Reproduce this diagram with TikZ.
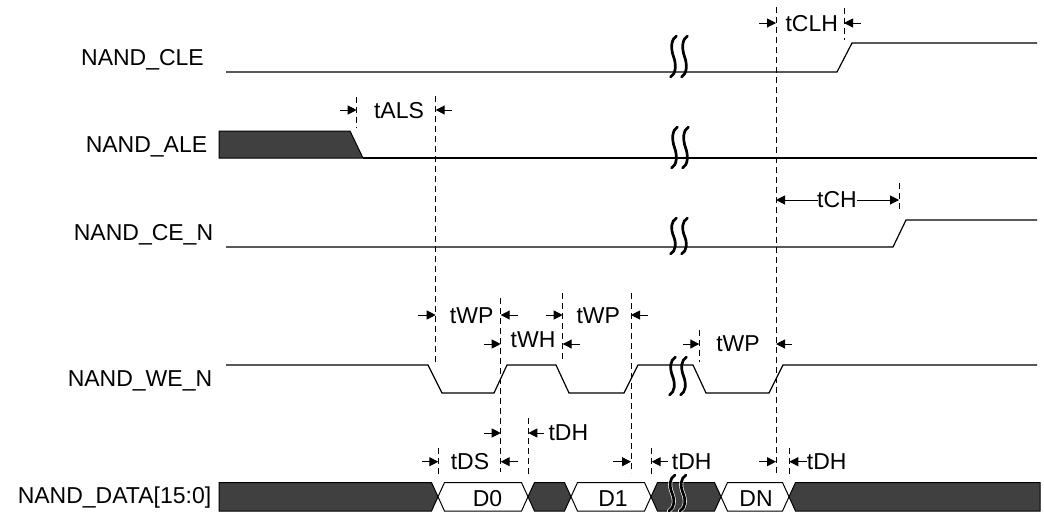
\documentclass[tikz,border=0pt]{standalone}
\usepackage{fontspec}
\setmainfont{Liberation Sans}
\usetikzlibrary{arrows.meta}
\definecolor{busgray}{RGB}{64,64,64}
\newcommand\tdbreak[3]{% center x, top y, bottom y
  \foreach \cx in {#1-5.5,#1+5.5}{
    \draw[brk] ({\cx+3},#2) .. controls ({\cx-2.5},{#2+3}) and ({\cx-3},{#2+0.3*(#3-#2)}) .. ({\cx},{0.5*(#2+#3)})
      .. controls ({\cx+3},{#3-0.3*(#3-#2)}) and ({\cx+2.5},{#3-3}) .. ({\cx-3},#3);
  }}
\newcommand\tdbreakhalo[3]{%
  \foreach \cx in {#1-5.5,#1+5.5}{
    \draw[brk,white,line width=4pt] ({\cx+3},#2) .. controls ({\cx-2.5},{#2+3}) and ({\cx-3},{#2+0.3*(#3-#2)}) .. ({\cx},{0.5*(#2+#3)})
      .. controls ({\cx+3},{#3-0.3*(#3-#2)}) and ({\cx+2.5},{#3-3}) .. ({\cx-3},#3);
  }}
\begin{document}
\begin{tikzpicture}[x=1pt,y=-1pt,
  sig/.style={line width=1.2pt, line join=miter},
  guide/.style={line width=0.9pt, dash pattern=on 6pt off 4pt},
  tip/.style={line width=1pt,-{Triangle[length=9pt,width=9pt]}},
  lbl/.style={anchor=base, inner sep=0pt, font=\fontsize{23}{26}\selectfont},
  brk/.style={line width=2.7pt, line cap=round},
  bus/.style={draw=black, fill=busgray, line width=1pt},
  val/.style={draw=black, fill=white, line width=1pt}]
\useasboundingbox (0,0) rectangle (1044,512);
\fill[white] (0,0) rectangle (1044,512);

% signal names
\node[lbl] (ncle) at (142.5,65) {NAND\_CLE};
\node[lbl] (nale) at (146.5,152) {NAND\_ALE};
\node[lbl] (nce) at (143.5,240) {NAND\_CE\_N};
\node[lbl] (nwe) at (140,386.7) {NAND\_WE\_N};
\node[lbl] (ndata) at (114.5,503) {NAND\_DATA[15:0]};

% waveforms
\draw[sig] (226,72) -- (837,72) -- (852,43) -- (1037,43);
\draw[bus] (219,131) -- (350,131) -- (363,158) -- (219,158) -- cycle;
\draw[sig] (363,158) -- (1037,158);
\draw[sig] (226,247) -- (893,247) -- (906,220) -- (1037,220);
\draw[sig] (226,365) -- (428,365) -- (442,393) -- (494,393) -- (507,365) -- (556,365)
  -- (569,393) -- (624,393) -- (638,365) -- (693,365) -- (706,393) -- (769,393)
  -- (783,365) -- (1037,365);

% data bus
\def\T{482.5}\def\B{511}\def\M{496.75}
\draw[bus] (219,\T) -- (431.5,\T) -- (438,\M) -- (431.5,\B) -- (219,\B) -- cycle;
\draw[val] (438,\M) -- (444.5,\T) -- (521.5,\T) -- (528,\M) -- (521.5,\B) -- (444.5,\B) -- cycle;
\draw[bus] (528,\M) -- (534.5,\T) -- (564.5,\T) -- (571,\M) -- (564.5,\B) -- (534.5,\B) -- cycle;
\draw[val] (571,\M) -- (577.5,\T) -- (644.5,\T) -- (651,\M) -- (644.5,\B) -- (577.5,\B) -- cycle;
\draw[bus] (651,\M) -- (657.5,\T) -- (714.5,\T) -- (721,\M) -- (714.5,\B) -- (657.5,\B) -- cycle;
\draw[val] (721,\M) -- (727.5,\T) -- (782.5,\T) -- (789,\M) -- (782.5,\B) -- (727.5,\B) -- cycle;
\draw[bus] (789,\M) -- (795.5,\T) -- (1040,\T) -- (1040,\B) -- (795.5,\B) -- cycle;
\node[lbl] (d0) at (487.5,506.5) {D0};
\node[lbl] (d1) at (613,506.5) {D1};
\node[lbl] (dn) at (756,506.5) {DN};

% breaks
\tdbreak{679}{36}{77}
\tdbreak{680}{127}{168}
\tdbreak{679}{218}{254}
\tdbreak{678}{357}{395}
\tdbreakhalo{677.5}{475}{511}
\tdbreak{677.5}{475}{511}

% guide lines
\draw[guide] (776,7) -- (776,473);
\draw[guide] (844,8) -- (844,40);
\draw[guide] (356.7,97) -- (356.7,128);
\draw[guide] (435.7,96) -- (435.7,362);
\draw[guide] (899,183) -- (899,213);
\draw[guide] (500.7,298) -- (500.7,472);
\draw[guide] (562.7,293) -- (562.7,362);
\draw[guide] (631,293) -- (631,473);
\draw[guide] (699.3,330) -- (699.3,362);
\draw[guide] (528.3,418) -- (528.3,477);
\draw[guide] (438.3,448) -- (438.3,475);
\draw[guide] (651.7,448) -- (651.7,475);
\draw[guide] (789.3,448) -- (789.3,475);

% tALS
\draw[tip] (340,110) -- (356.7,110);
\draw[tip] (452,110) -- (435.7,110);
\node[lbl] (tals) at (399,118) {tALS};
% tCLH
\draw[tip] (759,23) -- (776,23);
\draw[tip] (861,23) -- (844,23);
\node[lbl] (tclh) at (811.7,31.5) {tCLH};
% tCH
\draw[tip] (818,200) -- (776,200);
\draw[tip] (857,200) -- (899,200);
\node[lbl] (tch) at (837,207) {tCH};
% tWP 1
\draw[tip] (418,315) -- (435.7,315);
\draw[tip] (518,315) -- (500.7,315);
\node[lbl] (twp1) at (471.7,323.3) {tWP};
% tWH
\draw[tip] (484,344) -- (500.7,344);
\draw[tip] (580,344) -- (562.7,344);
\node[lbl] (twh) at (533,347) {tWH};
% tWP 2
\draw[tip] (546,315) -- (562.7,315);
\draw[tip] (648,315) -- (631,315);
\node[lbl] (twp2) at (598.3,323.3) {tWP};
% tWP 3
\draw[tip] (683,344) -- (699.3,344);
\draw[tip] (792,344) -- (776,344);
\node[lbl] (twp3) at (738,351.7) {tWP};
% tDH 1
\draw[tip] (484,433) -- (500.7,433);
\draw[tip] (544,433) -- (528.3,433);
\node[lbl] (tdh1) at (568.3,440) {tDH};
% tDS
\draw[tip] (422,461.7) -- (438.3,461.7);
\draw[tip] (518,461.7) -- (500.7,461.7);
\node[lbl] (tds) at (470,469.3) {tDS};
% tDH 2
\draw[tip] (613,461.7) -- (631,461.7);
\draw[tip] (668,461.7) -- (651.7,461.7);
\node[lbl] (tdh2) at (691.7,469.3) {tDH};
% tDH 3
\draw[tip] (759,461.7) -- (776,461.7);
\draw[tip] (807,461.7) -- (789.3,461.7);
\node[lbl] (tdh3) at (826.7,469.3) {tDH};
\end{tikzpicture}
\end{document}
